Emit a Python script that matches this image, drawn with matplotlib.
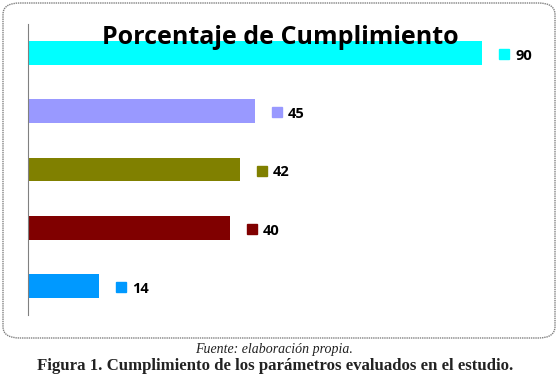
import matplotlib.pyplot as plt
from matplotlib.patches import FancyBboxPatch

# data, bottom to top
values = [14, 40, 42, 45, 90]
colors = ['#0099ff', '#800000', '#808000', '#9999ff', '#00ffff']

W, H = 560, 380
fig = plt.figure(figsize=(W / 100, H / 100), dpi=100)

# rounded chart frame
frame = FancyBboxPatch((3 / W, 1 - 338 / H), 552 / W, 335 / H,
                       boxstyle="round,pad=0,rounding_size=0.03",
                       transform=fig.transFigure, fill=False,
                       edgecolor='#808080', linewidth=1.0, linestyle=(0, (1, 0.6)))
fig.patches.append(frame)

# axes: left 28 px, top 24 px, bottom 315 px
ax = fig.add_axes([28 / W, 1 - 315 / H, (540 - 28) / W, (315 - 24) / H])
pos = range(len(values))
ax.barh(pos, values, height=0.41, color=colors)
ax.set_xlim(0, 512 / (454 / 90))
ax.set_ylim(-0.5, len(values) - 0.5)

for spine in ['top', 'right', 'bottom']:
    ax.spines[spine].set_visible(False)
ax.spines['left'].set_color('#808080')
ax.spines['left'].set_linewidth(0.8)
ax.set_xticks([])
ax.set_yticks([])
ax.patch.set_alpha(0)

offset = 22 / (454 / 90)
for i, v in enumerate(values):
    ax.plot(v + offset, i - 0.02, marker='s', markersize=6.5, color=colors[i],
            linestyle='none', clip_on=False)
    ax.text(v + offset + 2.2, i - 0.05, str(v), va='center', ha='left',
            fontsize=10.5, fontweight='bold', family='Open Sans', color='black')

fig.text(280 / W, 1 - 38 / H, 'Porcentaje de Cumplimiento', ha='center', va='center',
         fontsize=18, fontweight='bold', family='Open Sans', color='black')

fig.text(274.5 / W, 1 - 349 / H, 'Fuente: elaboración propia.', ha='center', va='center',
         fontsize=10, style='italic', family='Liberation Serif', color='#222222')
fig.text(275.5 / W, 1 - 366 / H, 'Figura 1. Cumplimiento de los parámetros evaluados en el estudio.',
         ha='center', va='center', fontsize=12.05, fontweight='bold',
         family='Liberation Serif', color='#222222')

fig.savefig('out.png', dpi=100)
